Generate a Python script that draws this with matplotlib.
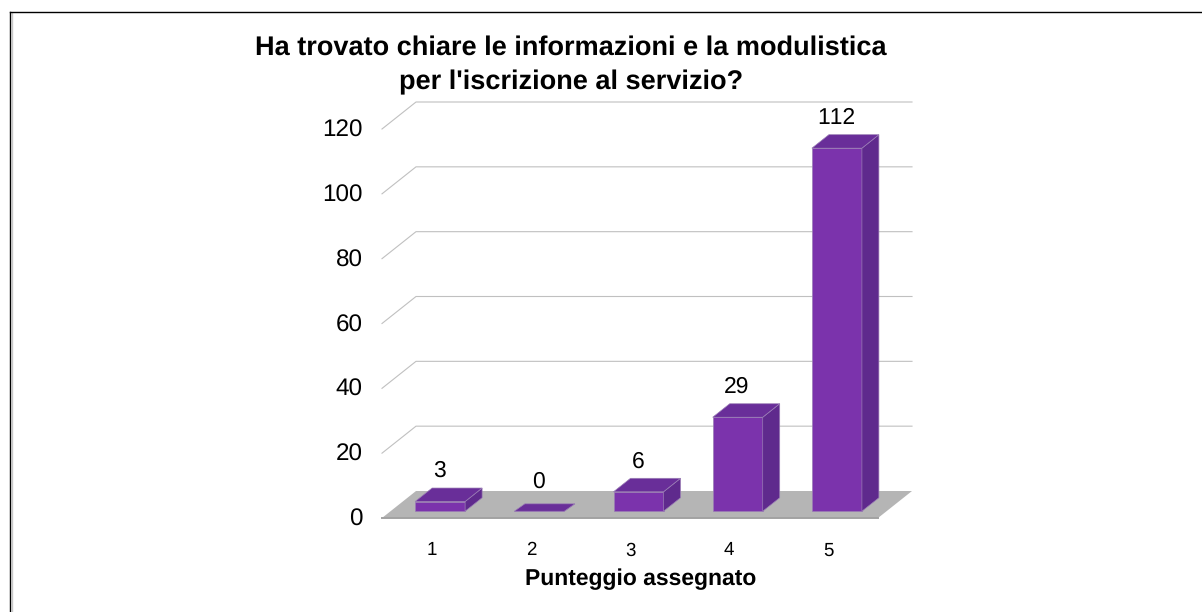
#!/usr/bin/env python

import matplotlib
matplotlib.use("Agg")
import matplotlib.pyplot as plt
from matplotlib.lines import Line2D
from matplotlib.transforms import ScaledTranslation

plt.rcParams.update({
    "font.family": ["Liberation Sans", "DejaVu Sans"],
    "text.hinting": "no_hinting",
    "text.kerning_factor": 20,
})

categories = ["1", "2", "3", "4", "5"]
values = [3, 0, 6, 29, 112]
y_ticks = [0, 20, 40, 60, 80, 100, 120]
title = "Ha trovato chiare le informazioni e la modulistica\nper l'iscrizione al servizio?"
x_label = "Punteggio assegnato"

W, H = 1202, 612
front = "#7B33AC"
side = "#5F2A8D"
top = "#692E99"
edge = "#9A7DB5"
grid_col = "#C0C0C0"
floor_col = "#B5B5B5"

# size of the fake 3d box, in data units
depth_x = 34 / 99.2
depth_y = 27 / 3.242
bar_w = 50 / 99.2

figure = plt.figure(figsize=(W / 100, H / 100), dpi=100)
ax = figure.add_axes([382 / W, (H - 518) / H, 496 / W, 389 / H])
ax.set_xlim(0.5, 5.5)
ax.set_ylim(0, 120)
ax.patch.set_visible(False)
for s in ax.spines.values():
    s.set_visible(False)

# back wall grid lines with the slanted bit on the left
x0, x1 = ax.get_xlim()
for v in y_ticks[1:]:
    ax.plot([x0, x0 + depth_x, x1 + depth_x], [v, v + depth_y, v + depth_y],
            color=grid_col, lw=0.8, clip_on=False, zorder=1)

# floor
ax.fill([x0, x0 + depth_x, x1 + depth_x, x1], [0, depth_y, depth_y, 0],
        color=floor_col, lw=0, clip_on=False, zorder=2)
ax.plot([x0, x1], [0, 0], color="#A2A2A2", lw=1.4, clip_on=False, zorder=2)

# bars stand in the middle of the floor depth
for i, v in enumerate(values):
    xl = i + 1 + depth_x / 4 - bar_w / 2
    xr = xl + bar_w
    yb = depth_y / 4
    yt = yb + v
    dx = depth_x / 2
    dy = depth_y / 2
    lift = 4.5
    if v == 0:
        # the empty bar is drawn as a flatter slab in the original
        dx = dx * 0.62
        dy = dy * 0.55
        lift = 8
    ax.fill([xl, xr, xr, xl], [yb, yb, yt, yt], facecolor=front,
            edgecolor=edge, lw=0.5, clip_on=False, zorder=3)
    ax.fill([xr, xr + dx, xr + dx, xr], [yb, yb + dy, yt + dy, yt], facecolor=side,
            edgecolor=edge, lw=0.5, clip_on=False, zorder=3)
    ax.fill([xl, xr, xr + dx, xl + dx], [yt, yt, yt + dy, yt + dy], facecolor=top,
            edgecolor=edge, lw=0.5, clip_on=False, zorder=4)
    ax.annotate(str(v), (xl + bar_w / 2, yt + dy), xytext=(-0.5, lift),
                textcoords="offset points", ha="center", va="bottom",
                fontsize=16.5, color="black", annotation_clip=False)

ax.set_xticks(range(1, 6), categories)
ax.set_yticks(y_ticks)
ax.tick_params(axis="x", length=0, labelsize=13.5, pad=17)
ax.tick_params(axis="y", length=0, labelsize=17.5, pad=14)
for lab in ax.get_yticklabels():
    lab.set_transform(lab.get_transform() + ScaledTranslation(0, 0.6 / 72, figure.dpi_scale_trans))
ax.set_xlabel(x_label, fontsize=16.5, fontweight="bold", va="center")
ax.xaxis.set_label_coords((641 - 382) / 496, (518 - 579) / 389)

figure.text(571 / W, (H - 65.5) / H, title, ha="center", va="center",
            fontsize=19.5, fontweight="bold", linespacing=1.48)

# chart frame, only top and left are inside the picture
figure.add_artist(Line2D([11.5 / W, 11.5 / W], [0, (H - 13) / H], color="#C8C8C8", lw=1))
figure.add_artist(Line2D([9.8 / W, 9.8 / W], [0, (H - 11.5) / H], color="black", lw=1))
figure.add_artist(Line2D([9.8 / W, 1], [(H - 11.5) / H, (H - 11.5) / H], color="black", lw=1))

plt.savefig("out.png", dpi=100)
